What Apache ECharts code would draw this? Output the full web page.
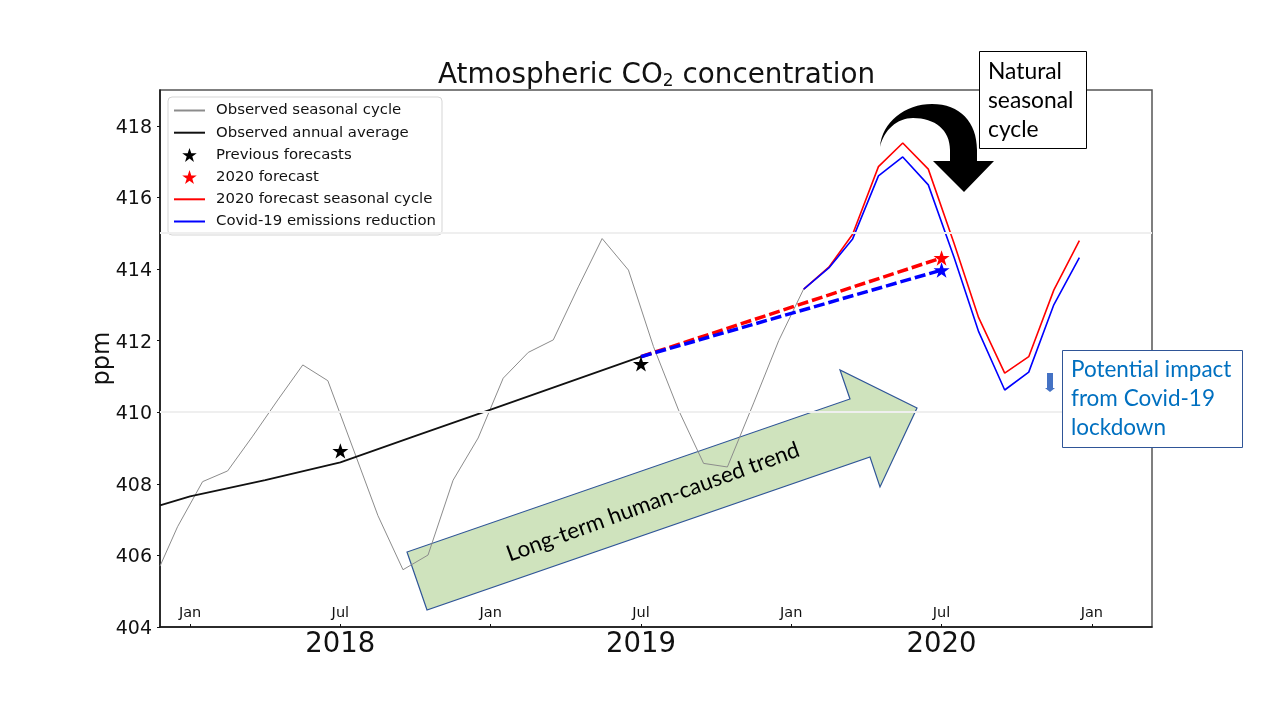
<!DOCTYPE html>
<html lang="en">

<head>
    <meta charset="UTF-8">
    <title>Atmospheric CO2 concentration</title>
    <style>
        html, body {
            margin: 0;
            background: #fff;
        }

        #main {
            width: 1280px;
            height: 720px;
        }
    </style>
    <script src="https://cdn.jsdelivr.net/npm/echarts@6/dist/echarts.min.js"></script>
</head>

<body>
<div id="main"></div>
<script>
    // x is counted in months from the first "Jan" tick
    var seasonalMonths = [-1.2, -0.5, 0.5, 1.5, 2.5, 3.5, 4.5, 5.5, 6.5, 7.5, 8.5, 9.5, 10.5, 11.5, 12.5, 13.5, 14.5, 15.5, 16.45, 17.5, 18.5, 19.5, 20.5, 21.45, 22.5, 23.5, 24.5];
    var seasonalPpm = [405.7, 406.8, 408.06, 408.36, 409.33, 410.34, 411.32, 410.88, 409.0, 407.11, 405.6, 406.01, 408.1, 409.28, 410.95, 411.67, 412.02, 413.5, 414.85, 413.97, 411.83, 410.06, 408.57, 408.47, 410.26, 412.0, 413.45];

    var annualMonths = [-1.2, 0, 3, 6, 9, 12, 15, 18];
    var annualPpm = [407.4, 407.65, 408.1, 408.6, 409.34, 410.07, 410.81, 411.55];

    var forecastMonths = [24.5, 25.5, 26.45, 27.48, 28.45, 29.47, 30.5, 31.48, 32.52, 33.48, 34.48, 35.5];
    var forecastPpm = [413.44, 414.05, 414.97, 416.86, 417.52, 416.79, 414.71, 412.64, 411.09, 411.55, 413.41, 414.79];
    var covidPpm = [413.44, 414.03, 414.84, 416.6, 417.13, 416.35, 414.32, 412.25, 410.62, 411.12, 413.0, 414.32];

    var trendMonths = [18, 30];
    var trendForecastPpm = [411.55, 414.31];
    var trendCovidPpm = [411.55, 413.97];

    var previousMonths = [6, 18];
    var previousPpm = [408.92, 411.35];
    var forecastStar = [30, 414.31];
    var covidStar = [30, 413.97];

    var yTicks = [404, 406, 408, 410, 412, 414, 416, 418];
    var refLevels = [410, 415];
    var monthTicks = [0, 6, 12, 18, 24, 30, 36];
    var monthNames = ["Jan", "Jul", "Jan", "Jul", "Jan", "Jul", "Jan"];
    var yearTicks = [6, 18, 30];
    var yearNames = ["2018", "2019", "2020"];

    var legendNames = ["Observed seasonal cycle", "Observed annual average", "Previous forecasts", "2020 forecast", "2020 forecast seasonal cycle", "Covid-19 emissions reduction"];

    var star = "path://M50,0L61.8,35.5L98,35.5L68.5,57.5L79.4,92.7L50,71L20.6,92.7L31.5,57.5L2,35.5L38.2,35.5Z";
    var sans = "DejaVu Sans";
    var boxFont = "Lato";

    function pairs(xs, ys) {
        var out = [];
        for (var i = 0; i < xs.length; i++) {
            out.push([xs[i], ys[i]]);
        }
        return out;
    }

    function lineSeries(name, xs, ys, color, width, dash) {
        return {
            name: name,
            type: "line",
            data: pairs(xs, ys),
            symbol: "none",
            silent: true,
            animation: false,
            lineStyle: {color: color, width: width, type: dash || "solid"},
            // opacity 0 keeps the circle out of the legend icon
            itemStyle: {color: color, opacity: 0}
        };
    }

    function starSeries(name, data, color) {
        return {
            name: name,
            type: "scatter",
            data: data,
            symbol: star,
            symbolSize: 16,
            symbolKeepAspect: true,
            silent: true,
            animation: false,
            z: 5,
            itemStyle: {color: color, opacity: 1}
        };
    }

    // the black curved arrow over the seasonal peak
    echarts.graphic.registerShape("curvedArrow", echarts.graphic.extendShape({
        buildPath: function (ctx) {
            ctx.moveTo(880, 147);
            ctx.bezierCurveTo(882, 122, 905, 104, 932, 104);
            ctx.bezierCurveTo(960, 104, 977, 122, 977, 150);
            ctx.lineTo(977, 161);
            ctx.lineTo(994, 161);
            ctx.lineTo(964, 192);
            ctx.lineTo(933, 161);
            ctx.lineTo(950, 161);
            ctx.lineTo(950, 150);
            ctx.bezierCurveTo(950, 130, 935, 118, 913, 118);
            ctx.bezierCurveTo(897, 118, 884, 130, 880, 147);
            ctx.closePath();
        }
    }));

    var observed = lineSeries(legendNames[0], seasonalMonths, seasonalPpm, "#8c8c8c", 1);
    observed.markLine = {
        silent: true,
        symbol: "none",
        animation: false,
        label: {show: false},
        lineStyle: {color: "#efefef", width: 2, type: "solid"},
        data: refLevels.map(function (v) {
            return {yAxis: v};
        })
    };

    var myChart = echarts.init(document.getElementById("main"), null, {renderer: "canvas"});

    var option = {
        backgroundColor: "#fff",
        animation: false,
        title: {
            text: "Atmospheric CO{sub|2} concentration",
            left: 651.5,
            top: 57,
            textAlign: "center",
            textStyle: {
                fontFamily: sans,
                fontSize: 27.8,
                fontWeight: "normal",
                color: "#111",
                rich: {
                    sub: {fontFamily: sans, fontSize: 17, color: "#111", verticalAlign: "bottom", padding: [8, 0, 0, 0]}
                }
            }
        },
        grid: {
            left: 160,
            top: 90,
            right: 128,
            bottom: 93,
            show: true,
            borderColor: "#555",
            borderWidth: 1.5,
            backgroundColor: "transparent"
        },
        legend: {
            left: 168,
            top: 97,
            orient: "vertical",
            data: legendNames,
            itemWidth: 31,
            itemHeight: 14,
            itemGap: 7.2,
            padding: [6, 6, 6, 5],
            borderColor: "#d5d5d5",
            borderWidth: 1,
            borderRadius: 4,
            backgroundColor: "#fff",
            selectedMode: false,
            textStyle: {fontFamily: sans, fontSize: 14.9, color: "#111", padding: [0, 0, 0, 6]}
        },
        xAxis: [{
            type: "value",
            min: -1.2,
            max: 38.4,
            splitLine: {show: false},
            axisLine: {onZero: false, lineStyle: {color: "#111", width: 1.5}},
            axisTick: {inside: true, length: 3, customValues: monthTicks, lineStyle: {color: "#111"}},
            axisLabel: {
                customValues: yearTicks,
                margin: 4,
                fontFamily: sans,
                fontSize: 27.5,
                color: "#111",
                formatter: function (v) {
                    return yearNames[yearTicks.indexOf(v)];
                }
            }
        }, {
            type: "value",
            position: "bottom",
            min: -1.2,
            max: 38.4,
            splitLine: {show: false},
            axisLine: {show: false},
            axisTick: {show: false},
            axisLabel: {
                inside: true,
                customValues: monthTicks,
                margin: 6,
                fontFamily: sans,
                fontSize: 14.5,
                color: "#111",
                formatter: function (v) {
                    return monthNames[monthTicks.indexOf(v)];
                }
            }
        }],
        yAxis: {
            type: "value",
            min: 404,
            max: 419,
            name: "ppm",
            nameLocation: "middle",
            nameGap: 45,
            nameMoveOverlap: false,
            nameTextStyle: {fontFamily: sans, fontSize: 24, color: "#111"},
            splitLine: {show: false},
            axisLine: {onZero: false, lineStyle: {color: "#111", width: 1.5}},
            axisTick: {length: 3, customValues: yTicks, lineStyle: {color: "#111"}},
            axisLabel: {customValues: yTicks, margin: 8, fontFamily: sans, fontSize: 19, color: "#111", verticalAlign: "top", lineHeight: 4}
        },
        series: [
            observed,
            lineSeries(legendNames[1], annualMonths, annualPpm, "#111", 1.8),
            starSeries(legendNames[2], pairs(previousMonths, previousPpm), "#000"),
            starSeries(legendNames[3], [forecastStar], "#f00"),
            lineSeries(legendNames[4], forecastMonths, forecastPpm, "#f00", 1.6),
            lineSeries(legendNames[5], forecastMonths, covidPpm, "#00f", 1.6),
            lineSeries("Forecast trend", trendMonths, trendForecastPpm, "#f00", 3.5, [11, 4]),
            lineSeries("Covid-19 trend", trendMonths, trendCovidPpm, "#00f", 3.5, [11, 4]),
            starSeries("Covid-19 forecast", [covidStar], "#00f")
        ],
        // slide annotations
        graphic: {
            elements: [{
                type: "polygon",
                z: 0,
                silent: true,
                shape: {points: [[407, 552], [427, 610], [870, 457], [880, 487], [917, 408], [840, 370], [850, 399]]},
                style: {fill: "#cfe3bd", stroke: "#2f5597", lineWidth: 1.2}
            }, {
                type: "text",
                z: 6,
                silent: true,
                x: 653,
                y: 502,
                rotation: 20 * Math.PI / 180,
                style: {
                    text: "Long-term human-caused trend",
                    font: "22.4px " + boxFont,
                    fill: "#000",
                    textAlign: "center",
                    textVerticalAlign: "middle"
                }
            }, {
                type: "curvedArrow",
                z: 6,
                silent: true,
                style: {fill: "#000"}
            }, {
                type: "rect",
                z: 7,
                silent: true,
                shape: {x: 979.5, y: 51.5, width: 107, height: 97},
                style: {fill: "#fff", stroke: "#000", lineWidth: 1}
            }, {
                type: "text",
                z: 8,
                silent: true,
                style: {
                    text: "Natural\nseasonal\ncycle",
                    x: 988,
                    y: 57,
                    font: "22.8px " + boxFont,
                    lineHeight: 29,
                    fill: "#000"
                }
            }, {
                type: "rect",
                z: 7,
                silent: true,
                shape: {x: 1062.5, y: 350.5, width: 180, height: 97},
                style: {fill: "#fff", stroke: "#2f5597", lineWidth: 1}
            }, {
                type: "text",
                z: 8,
                silent: true,
                style: {
                    text: "Potential impact\nfrom Covid-19\nlockdown",
                    x: 1071,
                    y: 355,
                    font: "22.5px " + boxFont,
                    lineHeight: 29,
                    fill: "#0070c0"
                }
            }, {
                type: "polygon",
                z: 7,
                silent: true,
                shape: {points: [[1047, 373], [1053, 373], [1053, 388], [1055, 388], [1050, 392], [1045, 388], [1047, 388]]},
                style: {fill: "#4472c4"}
            }]
        }
    };

    myChart.setOption(option);
</script>
</body>

</html>
